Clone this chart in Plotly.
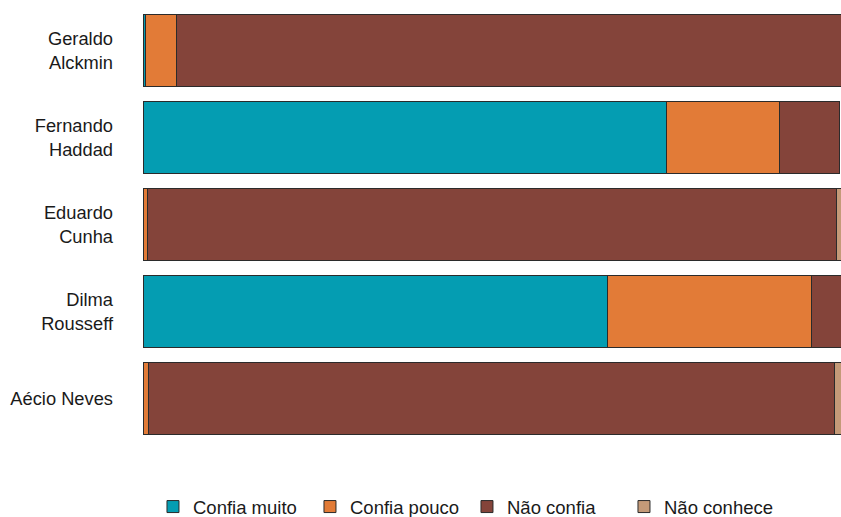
import plotly.graph_objects as go

categories = ["Aécio Neves", "Dilma<br>Rousseff", "Eduardo<br>Cunha", "Fernando<br>Haddad", "Geraldo<br>Alckmin"]
series_names = ["Confia muito", "Confia pouco", "Não confia", "Não conhece"]
confia_muito = [0.0, 66.5, 0.0, 74.9, 0.3]
confia_pouco = [0.8, 29.2, 0.6, 16.3, 4.5]
nao_confia = [98.2, 4.3, 98.7, 8.5, 95.2]
nao_conhece = [1.0, 0.0, 0.7, 0.0, 0.0]
colors = ["#049DB2", "#E27B37", "#84443A", "#C49A78"]

values = [confia_muito, confia_pouco, nao_confia, nao_conhece]

fig = go.Figure()
for name, vals, col in zip(series_names, values, colors):
    fig.add_trace(go.Bar(
        y=categories, x=vals, name=name, orientation="h",
        marker=dict(color=col, line=dict(color="#2b2b2b", width=1)),
    ))

fig.update_layout(
    barmode="stack",
    bargap=0.17,
    width=841, height=530,
    margin=dict(l=143, r=0, t=7, b=88),
    plot_bgcolor="white", paper_bgcolor="white",
    font=dict(family="Liberation Sans, Arial, sans-serif", size=18, color="#1a1a1a"),
    xaxis=dict(range=[0, 99.95], visible=False, showgrid=False, zeroline=False),
    yaxis=dict(showgrid=False, zeroline=False, ticklabelstandoff=29,
               tickfont=dict(size=18.3, color="#1a1a1a")),
    legend=dict(orientation="h", x=0.0143, xanchor="left", y=-0.1495, yanchor="middle",
                entrywidth=112, entrywidthmode="pixels",
                font=dict(size=18.5, color="#1a1a1a"), traceorder="normal"),
    showlegend=True,
)

fig.write_html("out.html", config={"displayModeBar": False},
               post_script="document.body.style.margin='0';document.body.style.overflow='hidden';")
